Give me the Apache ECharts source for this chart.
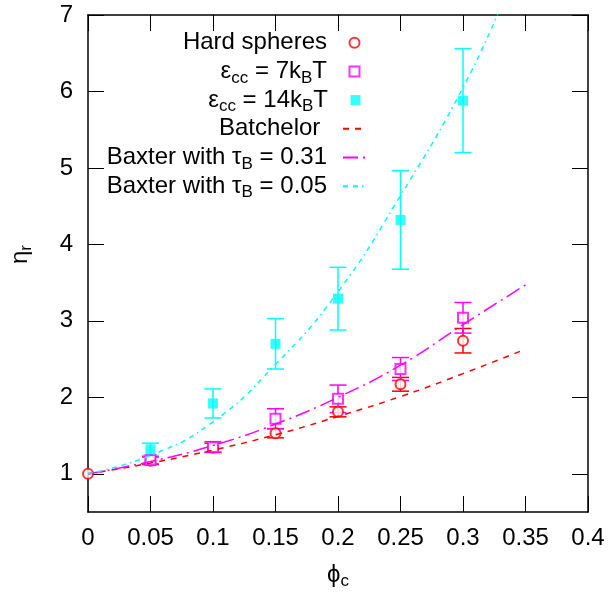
<!DOCTYPE html>
<html>
<head>
<meta charset="utf-8">
<title>eta_r vs phi_c</title>
<script src="https://cdn.jsdelivr.net/npm/echarts@6/dist/echarts.min.js"></script>
<style>
  html, body { margin: 0; padding: 0; background: #fff; }
</style>
</head>
<body>
<div id="main" style="width: 609px;height:595px;"></div>
<script type="text/javascript">
// data
var hsX = [0, 0.05, 0.1, 0.15, 0.2, 0.25, 0.3];
var hsY = [1, 1.17, 1.34, 1.53, 1.81, 2.17, 2.74];
var hsErr = [0, 0.05, 0.06, 0.06, 0.065, 0.09, 0.16];

var e7X = [0.05, 0.1, 0.15, 0.2, 0.25, 0.3];
var e7Y = [1.18, 1.35, 1.72, 1.98, 2.37, 3.04];
var e7Err = [0.05, 0.07, 0.13, 0.18, 0.15, 0.2];

var e14X = [0.05, 0.1, 0.15, 0.2, 0.25, 0.3];
var e14Y = [1.32, 1.92, 2.70, 3.29, 4.32, 5.88];
var e14Err = [0.08, 0.19, 0.33, 0.41, 0.645, 0.68];

var batX = [0, 0.05, 0.1, 0.15, 0.2, 0.25, 0.3, 0.35];
var batY = [1, 1.14, 1.31, 1.51, 1.75, 2.01, 2.31, 2.63];

var bax31X = [0, 0.05, 0.1, 0.15, 0.2, 0.25, 0.3, 0.35];
var bax31Y = [1, 1.16, 1.37, 1.65, 2.0, 2.42, 2.95, 3.47];

var bax05X = [0, 0.05, 0.1, 0.15, 0.2, 0.25, 0.3, 0.33];
var bax05Y = [1, 1.24, 1.68, 2.43, 3.38, 4.64, 6.05, 7.1];

var yTicks = [1, 2, 3, 4, 5, 6, 7];

var names = ['Hard spheres', 'eps7', 'eps14', 'Batchelor', 'Baxter031', 'Baxter005'];
var labels = {
  'Hard spheres': '{n|Hard spheres}',
  'eps7': '{n|ε}{s|cc}{n| = 7k}{s|B}{n|T}',
  'eps14': '{n|ε}{s|cc}{n| = 14k}{s|B}{n|T}',
  'Batchelor': '{n|Batchelor }',
  'Baxter031': '{n|Baxter with τ}{s|B}{n| = 0.31}',
  'Baxter005': '{n|Baxter with τ}{s|B}{n| = 0.05}'
};

var FONT = 'Liberation Sans';
var FS = 24;
var RED = '#ff0000', MAG = '#ff00ff', CYAN = '#00ffff';

function pairs(xs, ys) {
  return xs.map(function (x, i) { return [x, ys[i]]; });
}

function errBars(color, xs, ys, errs) {
  var d = [];
  xs.forEach(function (x, i) {
    if (errs[i] > 0) d.push([x, ys[i] - errs[i], ys[i] + errs[i]]);
  });
  return {
    type: 'custom',
    clip: true,
    data: d,
    encode: { x: 0, y: [1, 2] },
    silent: true,
    renderItem: function (params, api) {
      var lo = api.coord([api.value(0), api.value(1)]);
      var hi = api.coord([api.value(0), api.value(2)]);
      var w = 8.5;
      var st = { stroke: color, lineWidth: 1.5 };
      return {
        type: 'group',
        children: [
          { type: 'line', shape: { x1: lo[0], y1: lo[1], x2: hi[0], y2: hi[1] }, style: st },
          { type: 'line', shape: { x1: lo[0] - w, y1: lo[1], x2: lo[0] + w, y2: lo[1] }, style: st },
          { type: 'line', shape: { x1: hi[0] - w, y1: hi[1], x2: hi[0] + w, y2: hi[1] }, style: st }
        ]
      };
    }
  };
}

var rich = {
  n: { fontFamily: FONT, fontSize: FS, lineHeight: 30, color: '#000' },
  s: { fontFamily: FONT, fontSize: 17, lineHeight: 30, verticalAlign: 'bottom', color: '#000' }
};

// text ends at x=328, samples centred at x=355.5
var legends = names.map(function (nm, i) {
  var isLine = i >= 3;
  var iw = isLine ? 23 : 10;
  var iconRight = 355.5 + iw / 2;
  var item = { name: nm };
  if (isLine) item.itemStyle = { opacity: 0 };
  return {
    data: [item],
    orient: 'vertical',
    align: 'right',
    right: 609 - iconRight,
    top: 30.7 + i * 28.7,
    padding: 0,
    itemWidth: iw,
    itemHeight: 10,
    selectedMode: false,
    formatter: function (n) { return labels[n]; },
    textStyle: { rich: rich, padding: [0, (355.5 - iw / 2) - 5 - 328, 0, 0] }
  };
});

var tickStyle = { show: true, inside: true, length: 16, lineStyle: { color: '#000', width: 1 } };
var lineAx = { show: true, onZero: false, lineStyle: { color: '#000', width: 1.5 } };

var myChart = echarts.init(document.getElementById('main'));
var option = {
  animation: false,
  backgroundColor: '#fff',
  grid: { left: 88, right: 21, top: 15, bottom: 81 },
  legend: legends,
  xAxis: [{
    type: 'value', min: 0, max: 0.4, interval: 0.05,
    axisLine: lineAx, axisTick: tickStyle, splitLine: { show: false },
    axisLabel: { margin: 14, fontFamily: FONT, fontSize: FS, color: '#000' },
    name: '{n|ϕ}{s|c}', nameLocation: 'middle', nameGap: 48,
    nameTextStyle: { rich: rich }
  }, {
    type: 'value', min: 0, max: 0.4, interval: 0.05, position: 'top',
    axisLine: lineAx, axisTick: tickStyle, splitLine: { show: false },
    axisLabel: { show: false }
  }],
  yAxis: [{
    type: 'value', min: 0.5, max: 7,
    axisLine: lineAx,
    axisTick: Object.assign({ customValues: yTicks }, tickStyle),
    splitLine: { show: false },
    axisLabel: { customValues: yTicks, margin: 15, fontFamily: FONT, fontSize: FS, color: '#000' },
    name: '{n|η}{s|r}', nameLocation: 'middle', nameGap: 53,
    nameTextStyle: { rich: rich, padding: [0, 0, 0, 18] }
  }, {
    type: 'value', min: 0.5, max: 7, position: 'right',
    axisLine: lineAx,
    axisTick: Object.assign({ customValues: yTicks }, tickStyle),
    splitLine: { show: false },
    axisLabel: { show: false }
  }],
  series: [
    errBars(RED, hsX, hsY, hsErr),
    {
      name: 'Hard spheres', type: 'scatter', data: pairs(hsX, hsY),
      symbol: 'emptyCircle', symbolSize: 10,
      itemStyle: { color: RED, borderColor: RED, borderWidth: 1.5 }
    },
    errBars(MAG, e7X, e7Y, e7Err),
    {
      name: 'eps7', type: 'scatter', data: pairs(e7X, e7Y),
      symbol: 'emptyRect', symbolSize: 10,
      itemStyle: { color: MAG, borderColor: MAG, borderWidth: 1.5 }
    },
    errBars(CYAN, e14X, e14Y, e14Err),
    {
      name: 'eps14', type: 'scatter', data: pairs(e14X, e14Y),
      symbol: 'rect', symbolSize: 10,
      itemStyle: { color: CYAN }
    },
    {
      name: 'Batchelor', type: 'line', data: pairs(batX, batY), smooth: true,
      symbol: 'none', showSymbol: false, color: RED,
      lineStyle: { color: RED, width: 1.5, type: [6, 6] }
    },
    {
      name: 'Baxter031', type: 'line', data: pairs(bax31X, bax31Y), smooth: true,
      symbol: 'none', showSymbol: false, color: MAG,
      lineStyle: { color: MAG, width: 1.5, type: [15, 5, 2, 5] }
    },
    {
      name: 'Baxter005', type: 'line', data: pairs(bax05X, bax05Y), smooth: true,
      symbol: 'none', showSymbol: false, color: CYAN, clip: true,
      lineStyle: { color: CYAN, width: 1.5, type: [5, 5, 5, 4, 1.5, 4] }
    }
  ]
};
myChart.setOption(option);
</script>
</body>
</html>
